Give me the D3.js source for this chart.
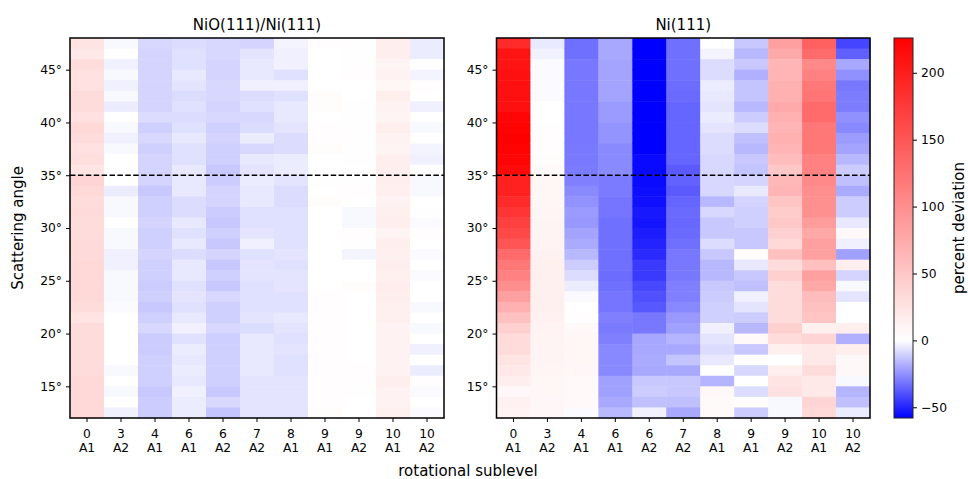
<!DOCTYPE html>
<html>
<head>
<meta charset="utf-8">
<script src="https://cdn.jsdelivr.net/npm/d3@7"></script>
<style>
  body { margin: 0; background: #fff; }
  text { font-family: "DejaVu Sans", sans-serif; fill: #000; }
</style>
</head>
<body>
<div id="chart"></div>
<script>
// rotational sublevels (two-line tick labels)
const sublevels  = ["0", "3", "4", "6", "6", "7", "8", "9", "9", "10", "10"];
const symmetries = ["A1", "A2", "A1", "A1", "A2", "A2", "A1", "A1", "A2", "A1", "A2"];

// lower edge of each 1 degree row, top row first
const angles = [47, 46, 45, 44, 43, 42, 41, 40, 39, 38, 37, 36, 35, 34, 33, 32, 31, 30,
                29, 28, 27, 26, 25, 24, 23, 22, 21, 20, 19, 18, 17, 16, 15, 14, 13, 12];

const angleTicks = [15, 20, 25, 30, 35, 40, 45];
const cbarTicks = [-50, 0, 50, 100, 150, 200];
const vmin = -58, vmax = 226;
const markAngle = 35;

// percent deviation, NiO(111)/Ni(111), one array per sublevel (rows as in angles)
const nioDev = [
  [24,20,31,27,27,31,31,27,35,31,27,29,24,38,35,31,33,31,31,33,33,35,35,35,35,31,24,31,31,31,31,31,35,35,35,35],
  [-1.6,0,-3.4,-1.6,-3.4,-1.6,-4.3,0,-1.6,-3.4,-1.6,0,0,0,-4.3,-1.6,-1.6,0,-1.6,-1.6,-3.4,-3.4,-1.6,-1.6,-1.6,-1,0,0,0,0,0,-1.6,0,-1.6,0,-3.4],
  [-8.9,-9.8,-9.8,-9.8,-9.8,-9.8,-9.8,-8,-10.7,-8.9,-10.7,-9.8,-9.8,-9.8,-12.5,-10.7,-10.7,-9.8,-10.7,-10.7,-9.8,-10.7,-10.7,-11.6,-10.7,-12.5,-10.7,-8.9,-11.6,-11.6,-10.7,-10.7,-10.7,-12.5,-11.6,-11.6],
  [-8,-7.1,-7.1,-5.2,-6.1,-8,-7.1,-8,-7.1,-5.2,-7.1,-7.1,-5.2,-5.2,-5.2,-8,-8,-5.2,-7.1,-5.2,-8,-5.2,-5.2,-7.1,-6.1,-7.1,-5.2,-3.4,-7.1,-4.3,-5.2,-4.3,-5.2,-3.4,-4.3,-4.3],
  [-8.9,-8.9,-9.8,-9.8,-8.9,-8.9,-9.8,-8.9,-10.7,-9.8,-10.7,-10.7,-12.5,-11.6,-9.8,-9.8,-11.6,-12.5,-10.7,-12.5,-9.8,-12.5,-10.7,-12.5,-8.9,-10.7,-10.7,-8.9,-11,-10.7,-10.7,-10.7,-10.7,-12.5,-8.9,-13.4],
  [-9.8,-6.1,-5.2,-5.2,-3.4,-8,-7.1,-8.9,-8,-4.3,-8.9,-5.2,-6.1,-4.3,-5.2,-5.2,-7.1,-7.1,-6.1,-3.4,-7.1,-6.1,-6.1,-7.1,-7.1,-7.1,-6.1,-8,-5.2,-5.2,-5.2,-5.2,-6.1,-6.1,-6.1,-6.1],
  [-2.5,-3.4,-3.4,-7.1,-3.4,-7.1,-5.2,-5.2,-6.1,-8,-8,-4.3,-4.3,-6.1,-8,-8,-7.1,-7.1,-7.1,-7.1,-6.1,-7.1,-6.1,-6.1,-7.1,-7.1,-5.2,-6.1,-7.1,-6.1,-7.1,-7.1,-6.1,-6.1,-6.1,-6.1],
  [1.5,0,0,0,0,2.5,2.5,0,1.5,1.5,2.5,0,0,1,0,2.5,0,0,0,0,0,0,0,0,1.5,1.5,1.5,1.5,1.5,1.5,1.5,1.5,1.5,1.5,1.5,2.5],
  [1,1,1,1.5,0,0,1,1,1,1,1,1,0,1,1.5,0,-1.6,-1.6,1.5,1,-2.5,0,0,2.5,0,0,0,0,0,0,0,1.5,1.5,1,0,0],
  [15,15,9.7,11.5,8,15,11.5,9.7,15,11.5,9.7,15,15,15,14,11.5,13,15,9.7,15,13,15,13,17,15,13,13,11.5,11.5,11.5,11.5,11.5,15,11.5,11.5,13],
  [-4.3,-4.3,1,-2.5,1.5,0,-3.4,0,-1.6,0,-2.5,-3.4,0,-1.6,-1.6,0,1,-1,1.5,0,-1,0,-1,0,0,-1.6,0,-1.6,0,-3.4,0,-4.3,1.5,-1,0,-1]
];

// percent deviation, Ni(111)
const niDev = [
  [189,208,208,212,212,212,212,222,224,226,224,222,217,198,198,189,179,169,162,151,132,120,112,100,84,70,56,42,32,31,24,20,15,6,12,11],
  [-5,-3,-1,-1,-1,-1,0,0,1,2,2,3,4,8,8,8,9,10,10,11,12,13,13,13,13,13,12,11,10,10,10,9,8,8,7,7],
  [-32.5,-32.5,-31,-31,-31,-31,-31,-31,-31,-31,-30.5,-30.5,-30,-29,-26.6,-25,-23,-23.4,-20.7,-19.3,-16.1,-11.6,-8,-4.3,-1.1,0,2,6,8,8,8,7,5,5,5,-1],
  [-19.8,-19.8,-20.7,-20.7,-20.7,-20.7,-23,-23,-24.3,-24.3,-26.6,-26.6,-26.6,-30,-30,-31.4,-31.4,-32.5,-32.5,-32.5,-32.5,-32.5,-33.4,-32.5,-31.4,-31.4,-29,-30.2,-29,-27,-27,-27,-21.6,-21.6,-19.8,-16],
  [-58,-58,-58,-58,-58,-58,-58,-58,-58,-58,-58,-56,-56,-55.7,-55,-54.4,-52.5,-53.5,-51.6,-50,-48.4,-44.8,-44.8,-41.6,-39.8,-38,-30.7,-30.7,-20,-19.8,-19.3,-19.8,-12.5,-11.6,-14.3,-3.4],
  [-32.5,-32.5,-32.5,-32.5,-33.4,-33.9,-35,-35,-35,-35,-35,-35,-37.5,-35.7,-37.5,-35,-33.9,-34.3,-33.9,-32.5,-30.7,-30.7,-30.7,-28.9,-28.9,-27,-23.4,-21.6,-17.1,-19.8,-13.4,-19.8,-12.5,-12.5,-14.3,-19.8],
  [0,-2.5,-8,-8,-4.3,-5.2,-6.1,-4.3,-6.1,-8,-8,-8.9,-8.9,-8.9,-8.9,-16.1,-8.9,-12.5,-12.5,-8,-12.5,-16.1,-16.1,-12.5,-11.6,-10.7,-10.7,-3.4,-6.1,-8,-5.2,0,-17,6,4,5],
  [-12.5,-16.1,-12.5,-18,-13.4,-13.4,-16.1,-11.6,-8,-14.3,-16.1,-12.5,-13.4,-9.8,-5.2,-9.8,-10.7,-10.7,-12.5,-12.5,3,-5.2,-12.5,-14.3,-3.4,-6.1,-11.6,-16.1,5,-12.5,0,-8.9,0,-8,3,-11.6],
  [84,75,66,66,70,70,75,70,66,70,66,59,49,63,66,52,45,49,42,35,56,31,42,31,31,31,31,42,31,13,0,13,24,27,-1.6,-1.6],
  [141,132,105,112,120,122,132,132,120,120,120,112,112,105,100,98,98,88,77,84,84,56,84,77,59,56,52,13,38,20,20,31,20,20,38,35],
  [-42.3,-36.2,-19.8,-25.2,-30.7,-29.8,-29.8,-25.2,-27,-22.5,-20.7,-16.1,-11.6,-14.3,-19.3,-11.6,-11.6,-5.2,6,-3.4,-21.6,15,-9.8,-1.6,-6.1,0,0,15,-18,15,6,6,-1.6,-17,-14.3,-4.3]
];

const W = 968, H = 479;
const plotTop = 38, plotBottom = 418;
const tickFont = 12.3;
const labelFont = 15;

const svg = d3.select("#chart").append("svg")
  .attr("width", W)
  .attr("height", H);

// bwr colormap with a two-slope norm centred on zero
const color = d3.scaleLinear()
  .domain([vmin, 0, vmax])
  .range(["#0000ff", "#ffffff", "#ff0000"])
  .clamp(true);

const y = d3.scaleLinear()
  .domain([12, 48])
  .range([plotBottom, plotTop]);

const panels = [
  { title: "NiO(111)/Ni(111)", left: 70, right: 444, values: nioDev },
  { title: "Ni(111)", left: 496.5, right: 870, values: niDev }
];

panels.forEach(p => {
  const x = d3.scaleBand()
    .domain(d3.range(sublevels.length))
    .range([p.left, p.right])
    .paddingInner(0).paddingOuter(0);

  const g = svg.append("g");

  // cells
  p.values.forEach((col, ci) => {
    g.append("g")
      .selectAll("rect")
      .data(col)
      .join("rect")
      .attr("x", x(ci))
      .attr("width", x.bandwidth() + 0.5)
      .attr("y", (d, ri) => y(angles[ri] + 1))
      .attr("height", (d, ri) => y(angles[ri]) - y(angles[ri] + 1) + 0.5)
      .attr("fill", d => color(d));
  });

  // dashed line at 35 degrees
  g.append("line")
    .attr("x1", p.left).attr("x2", p.right)
    .attr("y1", y(markAngle)).attr("y2", y(markAngle))
    .attr("stroke", "#000")
    .attr("stroke-width", 1.5)
    .attr("stroke-dasharray", "5.5,2.4");

  // y axis
  const yAxis = g.append("g")
    .attr("transform", `translate(${p.left},0)`)
    .call(d3.axisLeft(y).tickValues(angleTicks).tickFormat(d => d + "°").tickSize(4).tickPadding(4));
  yAxis.select(".domain").remove();
  yAxis.selectAll("line").attr("stroke", "#000").attr("stroke-width", 1);
  yAxis.selectAll("text").attr("font-size", tickFont).attr("font-family", "DejaVu Sans").attr("fill", "#000");

  // x axis with two-line labels
  const xAxis = g.append("g")
    .attr("transform", `translate(0,${plotBottom})`)
    .call(d3.axisBottom(x).tickFormat("").tickSize(4));
  xAxis.select(".domain").remove();
  xAxis.selectAll("line").attr("stroke", "#000").attr("stroke-width", 1);
  xAxis.selectAll(".tick").each(function(d) {
    const t = d3.select(this).append("text")
      .attr("text-anchor", "middle")
      .attr("font-size", tickFont)
      .attr("font-family", "DejaVu Sans")
      .attr("fill", "#000");
    t.append("tspan").attr("x", 0).attr("y", 19.5).text(sublevels[d]);
    t.append("tspan").attr("x", 0).attr("y", 34).text(symmetries[d]);
  });

  // frame
  g.append("rect")
    .attr("x", p.left).attr("y", plotTop)
    .attr("width", p.right - p.left).attr("height", plotBottom - plotTop)
    .attr("fill", "none")
    .attr("stroke", "#000")
    .attr("stroke-width", 1.5);

  // title
  svg.append("text")
    .attr("x", (p.left + p.right) / 2)
    .attr("y", 29.5)
    .attr("text-anchor", "middle")
    .attr("font-size", labelFont)
    .text(p.title);
});

// axis labels
svg.append("text")
  .attr("transform", "translate(22.5,228) rotate(-90)")
  .attr("text-anchor", "middle")
  .attr("font-size", labelFont)
  .text("Scattering angle");

svg.append("text")
  .attr("x", 468)
  .attr("y", 476)
  .attr("text-anchor", "middle")
  .attr("font-size", labelFont)
  .text("rotational sublevel");

// colorbar
const cbLeft = 894, cbRight = 913;
const cb = d3.scaleLinear().domain([vmin, vmax]).range([plotBottom, plotTop]);

const defs = svg.append("defs");
const grad = defs.append("linearGradient")
  .attr("id", "cbgrad")
  .attr("x1", 0).attr("y1", 1).attr("x2", 0).attr("y2", 0);
grad.append("stop").attr("offset", 0).attr("stop-color", color(vmin));
grad.append("stop").attr("offset", (0 - vmin) / (vmax - vmin)).attr("stop-color", color(0));
grad.append("stop").attr("offset", 1).attr("stop-color", color(vmax));

svg.append("rect")
  .attr("x", cbLeft).attr("y", plotTop)
  .attr("width", cbRight - cbLeft).attr("height", plotBottom - plotTop)
  .attr("fill", "url(#cbgrad)")
  .attr("stroke", "#222")
  .attr("stroke-width", 1);

const cbAxis = svg.append("g")
  .attr("transform", `translate(${cbRight},0)`)
  .call(d3.axisRight(cb).tickValues(cbarTicks)
    .tickFormat(d => d < 0 ? "\u2212" + Math.abs(d) : String(d))
    .tickSize(4).tickPadding(4));
cbAxis.select(".domain").remove();
cbAxis.selectAll("line").attr("stroke", "#000").attr("stroke-width", 1);
cbAxis.selectAll("text").attr("font-size", tickFont).attr("font-family", "DejaVu Sans").attr("fill", "#000");

svg.append("text")
  .attr("transform", "translate(963.5,228) rotate(-90)")
  .attr("text-anchor", "middle")
  .attr("font-size", labelFont)
  .text("percent deviation");
</script>
</body>
</html>
